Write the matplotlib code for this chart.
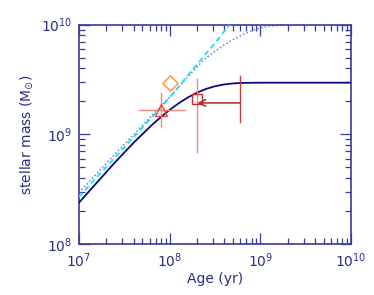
import matplotlib
matplotlib.use("Agg")
import matplotlib.pyplot as plt
from matplotlib.ticker import LogLocator, NullFormatter

# --- data ---
solid_age = [1e7, 1.585e7, 2.512e7, 3.981e7, 6.31e7, 7.943e7, 1e8, 1.259e8, 1.585e8,
             1.995e8, 2.512e8, 3.162e8, 3.981e8, 5.012e8, 6.31e8, 1e9, 1e10]
solid_mass = [2.38e8, 3.65e8, 5.58e8, 8.33e8, 1.207e9, 1.428e9, 1.667e9, 1.917e9, 2.162e9,
              2.39e9, 2.587e9, 2.738e9, 2.843e9, 2.905e9, 2.935e9, 2.95e9, 2.95e9]

dash_age = [1e7, 1.778e7, 3.162e7, 5.623e7, 1e8, 1.778e8, 3.162e8, 5.012e8]
dash_mass = [2.69e8, 4.55e8, 7.6e8, 1.28e9, 2.16e9, 3.85e9, 6.8e9, 1.09e10]

dot_age = [1e7, 1.778e7, 3.162e7, 5.623e7, 1e8, 1.778e8, 2.138e8, 2.512e8, 3.162e8,
           3.981e8, 5.012e8, 6.31e8, 7.943e8, 1e9, 1.259e9, 1.585e9, 2.512e9, 1e10]
dot_mass = [2.93e8, 4.9e8, 8.1e8, 1.33e9, 2.18e9, 3.70e9, 4.35e9, 4.95e9, 5.71e9,
            6.49e9, 7.28e9, 8.04e9, 8.75e9, 9.33e9, 9.66e9, 9.84e9, 9.98e9, 1.0e10]

# triangle with error bars
tri_age, tri_mass = 8e7, 1.68e9
tri_age_lo, tri_age_hi = 4.6e7, 1.48e8
tri_mass_lo, tri_mass_hi = 1.19e9, 2.39e9

# diamond
dia_age, dia_mass = 1e8, 2.95e9

# square with vertical error bar
sq_age, sq_mass = 2e8, 2.09e9
sq_mass_lo, sq_mass_hi = 6.9e8, 3.16e9

# arrow (upper limit) from older age back to square
arr_age_start, arr_age_end, arr_mass = 6e8, 2.02e8, 1.93e9
arr_bar_lo, arr_bar_hi = 1.29e9, 3.37e9

xticks = [1e7, 1e8, 1e9, 1e10]
xticklabels = [r'$10^{7}$', r'$10^{8}$', r'$10^{9}$', r'$10^{10}$']
yticks = [1e8, 1e9, 1e10]
yticklabels = [r'$10^{8}$', r'$10^{9}$', r'$10^{10}$']

axcol = '#3a3aa0'
txtcol = '#2c2c8c'

fig = plt.figure(figsize=(3.74, 2.95), dpi=100)
ax = fig.add_axes([79/374, 1-244/295, (351-79)/374, (244-24.5)/295])
ax.set_xscale('log')
ax.set_yscale('log')
ax.set_xlim(1e7, 1e10)
ax.set_ylim(1e8, 1e10)

ax.plot(dot_age, dot_mass, color='#6a7cf0', lw=1.1, ls=(0, (1, 1.5)), zorder=2)
ax.plot(dash_age, dash_mass, color='#19e0f5', lw=1.3, ls=(0, (3, 2)), zorder=3)
ax.plot(solid_age, solid_mass, color='#0a0a7a', lw=1.3, zorder=4)

# triangle
ax.plot([tri_age_lo, tri_age_hi], [tri_mass, tri_mass], color='#f08878', lw=1.0, zorder=5)
ax.plot([tri_age, tri_age], [tri_mass_lo, tri_mass_hi], color='#f08878', lw=1.0, zorder=5)
ax.plot([tri_age], [tri_mass], marker='^', ms=8, mfc='none', mec='#f04838', mew=1.0, zorder=6)

# diamond
diamond = [(-1, 0), (0, 1), (1, 0), (0, -1), (-1, 0)]
ax.plot([dia_age], [dia_mass], marker=diamond, ms=11, mfc='none', mec='#ff9838', mew=1.1,
        ls='none', zorder=6)

# square
ax.plot([sq_age, sq_age], [sq_mass_lo, sq_mass_hi], color='#f08888', lw=1.0, zorder=5)
ax.plot([sq_age], [sq_mass], marker='s', ms=7.5, mfc='none', mec='#c83030', mew=1.0, zorder=6)

# arrow
ax.plot([arr_age_start, arr_age_start], [arr_bar_lo, arr_bar_hi], color='#b84040', lw=1.0, zorder=5)
ax.annotate('', xy=(arr_age_end, arr_mass), xytext=(arr_age_start, arr_mass),
            arrowprops=dict(arrowstyle='->', color='#a82828', lw=1.1,
                            mutation_scale=12, shrinkA=0, shrinkB=0), zorder=6)

for s in ax.spines.values():
    s.set_color(axcol)
    s.set_linewidth(1.2)

ax.set_xticks(xticks)
ax.set_xticklabels(xticklabels)
ax.set_yticks(yticks)
ax.set_yticklabels(yticklabels)
ax.xaxis.set_minor_locator(LogLocator(base=10, subs=range(2, 10), numticks=20))
ax.yaxis.set_minor_locator(LogLocator(base=10, subs=range(2, 10), numticks=20))
ax.xaxis.set_minor_formatter(NullFormatter())
ax.yaxis.set_minor_formatter(NullFormatter())
ax.tick_params(which='both', direction='in', top=True, right=True, color=axcol,
               labelcolor=txtcol, labelsize=10, width=0.9)
ax.tick_params(which='major', length=8, pad=5)
ax.tick_params(which='minor', length=4)

ax.set_xlabel('Age (yr)', color=txtcol, fontsize=10, labelpad=2)
ax.set_ylabel(r'stellar mass (M$_{\odot}$)', color=txtcol, fontsize=10, labelpad=4)

fig.savefig('out.png', dpi=100)
